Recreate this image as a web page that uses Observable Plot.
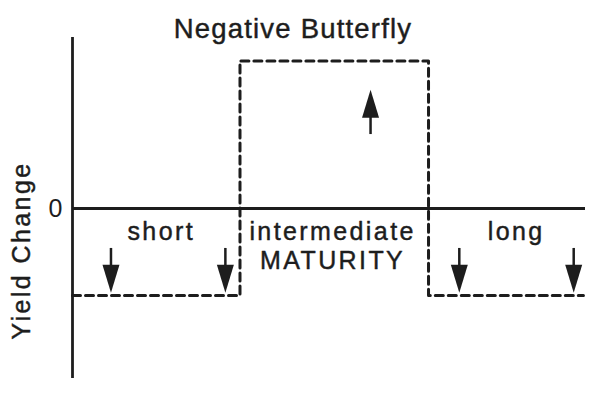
<!DOCTYPE html>
<html><head><meta charset="utf-8">
<script src="https://cdn.jsdelivr.net/npm/d3@7"></script>
<script src="https://cdn.jsdelivr.net/npm/@observablehq/plot@0.6"></script>
<style>body{margin:0;background:#fff}</style>
</head><body><div id="chart"></div>
<script>
const title = "Negative Butterfly";
const yLabel = "Yield Change";
const yTicks = [0];
const yTickLabels = ["0"];
const segments = ["short", "intermediate", "long"];
const segmentStart = [0, 3.265, 6.94];
const segmentEnd = [3.265, 6.94, 9.96];
const segmentLevel = [-0.512, 0.868, -0.512];
const labelText = ["short", "intermediate", "MATURITY", "long"];
const labelX = [1.73, 5.07, 5.07, 8.65];
const labelY = [-0.188, -0.188, -0.353, -0.188];
const arrowX = [0.75, 2.98, 5.81, 7.54, 9.77];
const arrowFrom = [-0.235, -0.235, 0.435, -0.235, -0.235];
const arrowTo = [-0.495, -0.495, 0.698, -0.495, -0.495];

const ink = "#1d1d1d";
const stepPoints = segments.flatMap((s, i) => [
  {x: segmentStart[i], y: segmentLevel[i]},
  {x: segmentEnd[i], y: segmentLevel[i]}
]);
const labels = labelText.map((t, i) => ({t, x: labelX[i], y: labelY[i]}));
const arrows = arrowX.map((x, i) => ({x, from: arrowFrom[i], to: arrowTo[i], mid: (arrowFrom[i] + arrowTo[i]) / 2}));
const arrowHead = {draw(ctx) { ctx.moveTo(0, 0); ctx.lineTo(8.5, 28); ctx.lineTo(-8.5, 28); ctx.closePath(); }};
const textStyle = {fill: ink, stroke: ink, strokeWidth: 0.45};

const chart = Plot.plot({
  width: 600, height: 406,
  marginTop: 38, marginBottom: 28, marginLeft: 72, marginRight: 15,
  x: {domain: [0, 10], axis: null},
  y: {domain: [-1, 1]},
  style: {fontFamily: "'Liberation Sans', Arial, Helvetica, sans-serif", fontSize: "25px", color: ink, background: "white"},
  marks: [
    Plot.ruleX([0], {y1: -1, y2: 1.006, stroke: ink, strokeWidth: 2.8}),
    Plot.ruleY([0], {x1: 0, x2: 10, stroke: ink, strokeWidth: 3}),
    Plot.line(stepPoints, {x: "x", y: "y", stroke: ink, strokeWidth: 3, strokeDasharray: "8,5"}),
    Plot.ruleX(arrows, {x: "x", y1: "from", y2: "mid", stroke: ink, strokeWidth: 2.5}),
    Plot.dot(arrows, {x: "x", y: "to", symbol: arrowHead, rotate: d => d.to > d.from ? 0 : 180, fill: ink, stroke: "none"}),
    Plot.text(labels, {x: "x", y: "y", text: "t", textAnchor: "middle", lineAnchor: "bottom", fontSize: 25, ...textStyle}),
    Plot.axisY(yTicks, {tickSize: 0, tickPadding: 10, label: null, fontSize: 25, tickFormat: (d, i) => yTickLabels[i], ...textStyle}),
    Plot.text([title], {text: d => d, frameAnchor: "top", dx: -36, dy: -1, lineAnchor: "bottom", fontSize: 27.5, ...textStyle}),
    Plot.text([yLabel], {text: d => d, frameAnchor: "left", rotate: -90, dx: -43, dy: 42, lineAnchor: "bottom", textAnchor: "middle", fontSize: 25, ...textStyle})
  ]
});
d3.select(chart).selectAll("text")
  .filter(function() { return labelText.includes(this.textContent) || this.textContent === yLabel; })
  .style("letter-spacing", "2.4px");
d3.select(chart).selectAll("text")
  .filter(function() { return this.textContent === title; })
  .style("letter-spacing", "1.2px");
document.getElementById("chart").appendChild(chart);
</script>
</body></html>
